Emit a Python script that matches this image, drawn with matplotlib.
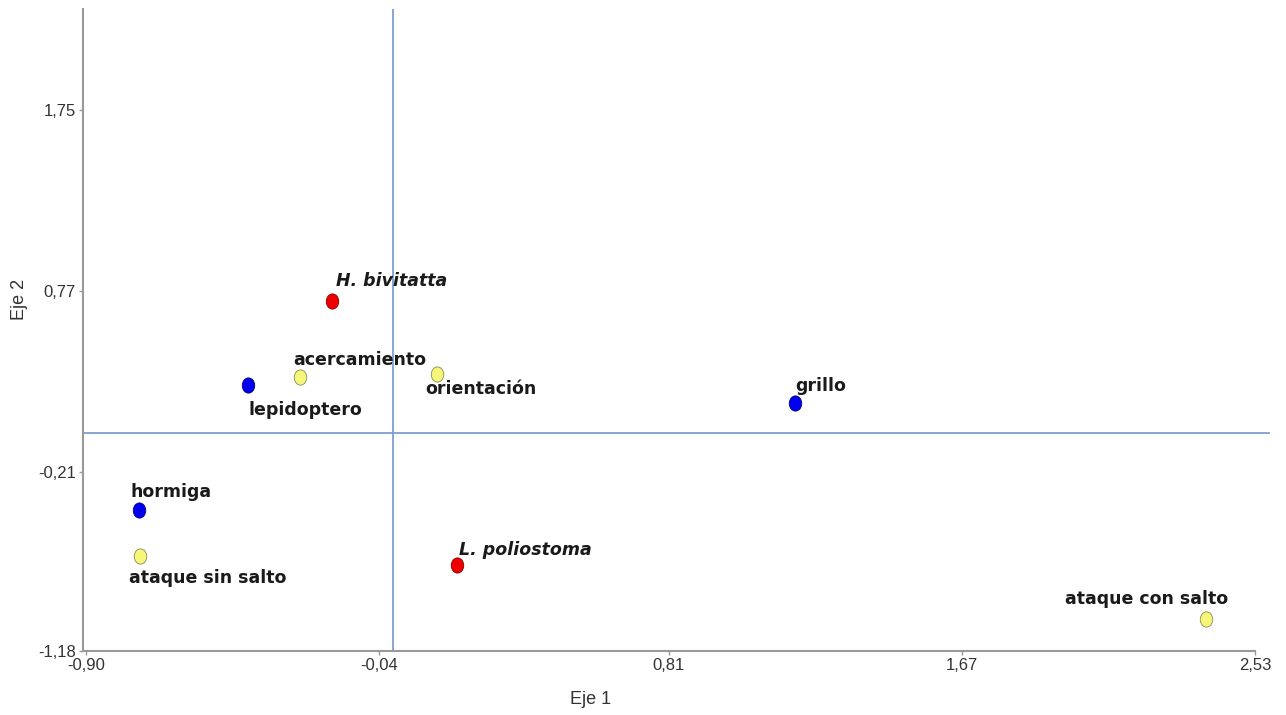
import numpy as np
import matplotlib.pyplot as plt
from matplotlib.markers import MarkerStyle
from matplotlib.transforms import Affine2D

# Puntos del diagrama (Eje 1, Eje 2)
names = ['H. bivitatta', 'L. poliostoma',
         'lepidoptero', 'grillo', 'hormiga',
         'acercamiento', 'orientación', 'ataque sin salto', 'ataque con salto']
eje1 = [-0.178, 0.187, -0.426, 1.180, -0.744, -0.273, 0.131, -0.741, 2.387]
eje2 = [0.716, -0.714, 0.261, 0.164, -0.416, 0.304, 0.321, -0.665, -1.006]
group = ['sp', 'sp', 'presa', 'presa', 'presa', 'comp', 'comp', 'comp', 'comp']

xticks = [-0.90, -0.04, 0.81, 1.67, 2.53]
yticks = [-1.18, -0.21, 0.77, 1.75]

# label offsets in points (left aligned)
offsets = {
    'H. bivitatta': (3, 14),
    'L. poliostoma': (2, 11),
    'lepidoptero': (1, -18),
    'grillo': (0, 12),
    'hormiga': (-6, 13),
    'acercamiento': (-5, 12),
    'orientación': (-9, -11),
    'ataque sin salto': (-8, -16),
    'ataque con salto': (-102, 14),
}

colors = {'sp': ('#ee0000', '#880000'),
          'presa': ('#0000ee', '#000088'),
          'comp': ('#f6f67a', '#8a8a50')}

plt.rcParams['font.family'] = ['Liberation Sans', 'DejaVu Sans']

fig = plt.figure(figsize=(12.86, 7.15), dpi=100)
ax = fig.add_axes([83/1286, 1-651/715, (1255-83)/1286, (651-9)/715])

xmin, xmax = -0.909, 2.53
ymin, ymax = -1.18, 2.297
ax.set_xlim(xmin, xmax)
ax.set_ylim(ymin, ymax)

# origin lines
ax.plot([xmin, 2.57], [0, 0], color='#7f9fd0', lw=1.3, clip_on=False, zorder=1)
ax.plot([0, 0], [ymin, ymax], color='#7f9fd0', lw=1.3, zorder=1)

mk = MarkerStyle('o', transform=Affine2D().scale(0.82, 1.0))
for n, x, y, g in zip(names, eje1, eje2, group):
    fc, ec = colors[g]
    ax.scatter([x], [y], s=120, marker=mk, facecolor=fc, edgecolor=ec,
               linewidth=0.6, zorder=3)
    dx, dy = offsets[n]
    style = 'oblique' if g == 'sp' else 'normal'
    ax.annotate(n, (x, y), xytext=(dx, dy), textcoords='offset points',
                ha='left', va='center', fontsize=12.5, fontweight='bold',
                fontstyle=style, color='#1a1a1a', family='DejaVu Sans',
                zorder=4)

for s in ['top', 'right']:
    ax.spines[s].set_visible(False)
for s in ['left', 'bottom']:
    ax.spines[s].set_color('#999999')
    ax.spines[s].set_linewidth(1.5)

ax.set_xticks(xticks)
ax.set_xticklabels([f'{v:.2f}'.replace('.', ',') for v in xticks])
ax.set_yticks(yticks)
ax.set_yticklabels([f'{v:.2f}'.replace('.', ',') for v in yticks])
ax.tick_params(length=3, width=1, color='#999999', labelsize=12,
               labelcolor='#333333', pad=2)

ax.set_xlabel('Eje 1', fontsize=13, color='#333333')
ax.set_ylabel('Eje 2', fontsize=13, color='#333333')
ax.xaxis.set_label_coords(0.433, -0.062)
ax.yaxis.set_label_coords(-0.047, 0.547)

fig.savefig('out.png', dpi=100)
